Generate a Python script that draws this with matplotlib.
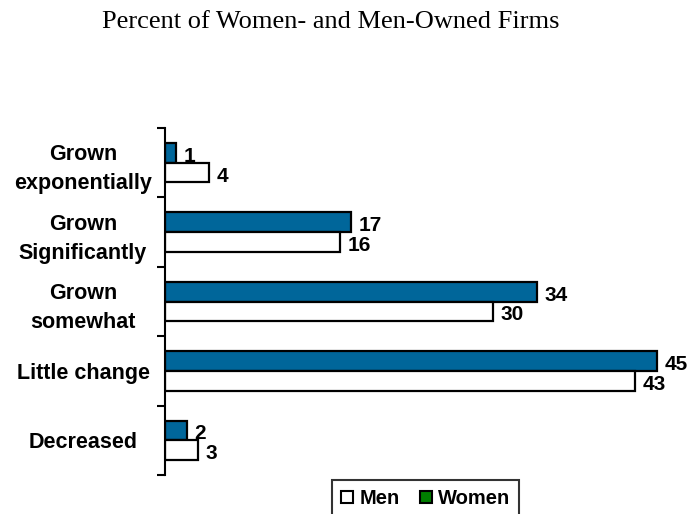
import matplotlib.pyplot as plt
import numpy as np
from matplotlib.patches import Patch

# data
categories = ['Grown\nexponentially', 'Grown\nSignificantly', 'Grown\nsomewhat',
              'Little change', 'Decreased']
women = [1, 17, 34, 45, 2]
men = [4, 16, 30, 43, 3]

fig = plt.figure(figsize=(6.89, 5.14), dpi=100)
ax = fig.add_axes([165 / 689, 1 - 475 / 514, 1 - 165 / 689, 347 / 514])

y = np.arange(len(categories))
h = 0.285
ax.barh(y - h / 2, women, height=h, color='#00669a', edgecolor='black', linewidth=1.6)
ax.barh(y + h / 2, men, height=h, color='white', edgecolor='black', linewidth=1.6)

for i in range(len(categories)):
    ax.text(women[i] + 0.7, y[i] - h / 2 + 0.05, str(women[i]), va='center', ha='left',
            fontsize=15, fontweight='bold', family='Liberation Sans')
    ax.text(men[i] + 0.7, y[i] + h / 2 + 0.05, str(men[i]), va='center', ha='left',
            fontsize=15, fontweight='bold', family='Liberation Sans')

ax.set_xlim(0, 524 / 10.93)
ax.set_ylim(4.5, -0.5)

for s in ['top', 'right', 'bottom']:
    ax.spines[s].set_visible(False)
ax.spines['left'].set_linewidth(1.5)
ax.set_xticks([])
ax.set_yticks(np.arange(-0.5, 5, 1))
ax.set_yticklabels([])
ax.tick_params(axis='y', which='major', direction='out', length=6, width=1.5)
ax.set_yticks(y, minor=True)
ax.set_yticklabels(categories, minor=True, fontsize=15.5, fontweight='bold',
                   family='Liberation Sans', ha='center', multialignment='center',
                   linespacing=1.5)
ax.tick_params(axis='y', which='minor', length=0, pad=59)
# two-line labels sit a little higher in the original
for lab in ax.get_yticklabels(minor=True):
    if '\n' in lab.get_text():
        lab.set_y(lab.get_position()[1] - 0.05)

handles = [Patch(facecolor='white', edgecolor='black', linewidth=1.5, label='Men'),
           Patch(facecolor='#007f00', edgecolor='black', linewidth=1.5, label='Women')]
leg = fig.legend(handles=handles, loc='upper left', bbox_to_anchor=(332 / 689, 1 - 480 / 514),
                 ncol=2, frameon=True, fancybox=False, handlelength=0.6, handleheight=0.6,
                 handletextpad=0.3, columnspacing=1.0, borderpad=0.45, borderaxespad=0,
                 prop={'family': 'Liberation Sans', 'weight': 'bold', 'size': 14.5})
leg.get_frame().set_edgecolor('black')
leg.get_frame().set_linewidth(1.5)

fig.text(331 / 689, 1 - 28 / 514, 'Percent of Women- and Men-Owned Firms', ha='center',
         va='baseline', fontsize=19, family='Liberation Serif')

fig.savefig('out.png', dpi=100)
